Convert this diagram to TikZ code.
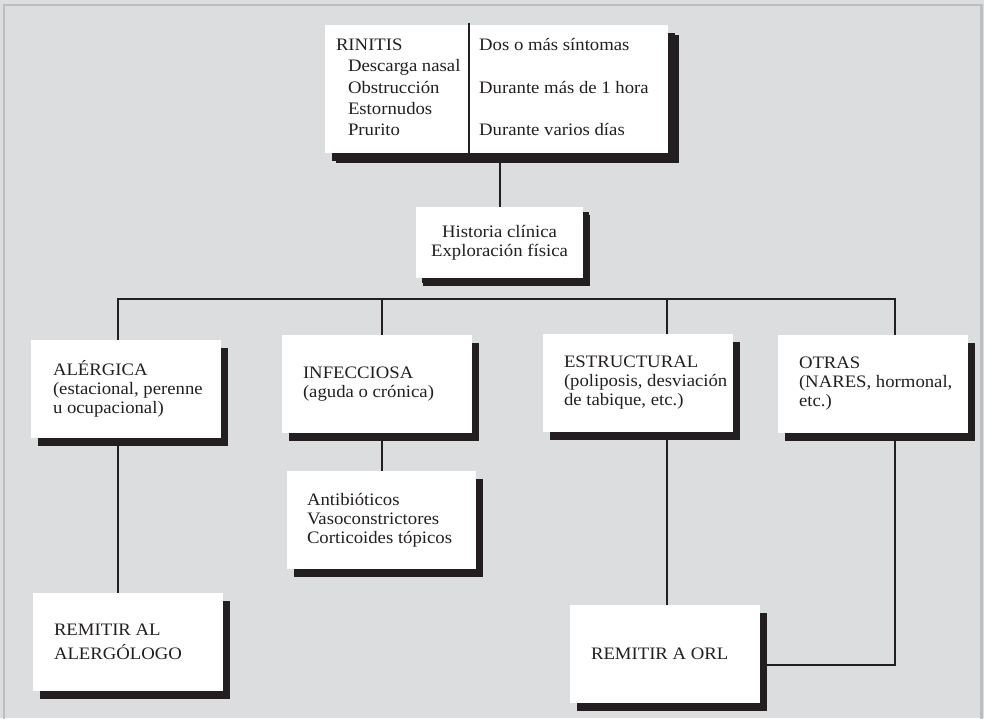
\documentclass[tikz,border=0pt]{standalone}
\usepackage{fontspec}
\setmainfont{Liberation Serif}[FakeStretch=1.07]
\usetikzlibrary{shadows,calc}
\definecolor{bgc}{HTML}{DCDDDF}
\definecolor{brd}{HTML}{BEBEBE}
\definecolor{ink}{HTML}{231F20}
\pgfdeclarelayer{bglayer}
\pgfdeclarelayer{linelayer}
\pgfsetlayers{bglayer,linelayer,main}
\begin{document}
\begin{tikzpicture}[x=1pt,y=-1pt,
  boxn/.style={fill=white, inner sep=0pt, minimum width=190pt, minimum height=98pt,
    drop shadow={shadow xshift=7pt, shadow yshift=-8pt, fill=ink, opacity=1}},
  txt/.style={anchor=west, align=left, inner sep=0pt, text=ink, font=\fontsize{17.5}{19}\selectfont},
  conn/.style={draw=ink, line width=2pt, line join=miter}]
\useasboundingbox (0,0) rectangle (984,718);
\begin{pgfonlayer}{bglayer}
  \fill[bgc] (0,0) rectangle (984,718);
  \draw[brd, line width=2.5pt] (4.2,730) -- (4.2,5) -- (981.5,5) -- (981.5,730);
\end{pgfonlayer}

% boxes
\node[boxn, minimum width=343pt, minimum height=128pt,
  drop shadow={shadow xshift=11pt, shadow yshift=-10pt, fill=ink, opacity=1}] (rinitis) at (496.5,89) {};
\node[boxn, minimum width=167pt, minimum height=71pt,
  drop shadow={shadow xshift=6pt, shadow yshift=-5pt, fill=ink, opacity=1}] (historia) at (499.5,242.5) {};
\node[boxn] (alergica) at (126,389) {};
\node[boxn] (infec) at (377,384) {};
\node[boxn] (estruc) at (638,383) {};
\node[boxn] (otras) at (873,384) {};
\node[boxn, minimum width=189pt] (antib) at (381.5,520) {};
\node[boxn] (remal) at (128,642) {};
\node[boxn] (orl) at (665,654) {};

% texts
\coordinate (divx) at (469,0);
\draw[ink, line width=1.4pt] ([yshift=2pt]rinitis.north -| divx) -- (rinitis.south -| divx);
\node[txt, font=\fontsize{17.5}{21.3}\selectfont] (rinL) at ([xshift=11pt]rinitis.west)
  {\strut RINITIS\\\hspace*{12pt}Descarga nasal\\\hspace*{12pt}Obstrucción\\\hspace*{12pt}Estornudos\\\hspace*{12pt}Prurito\strut};
\node[txt, font=\fontsize{17.5}{21.3}\selectfont] (rinR) at ([xshift=10pt]rinitis.west -| divx)
  {\strut Dos o más síntomas\\\mbox{}\\Durante más de 1 hora\\\mbox{}\\Durante varios días\strut};
\node[txt, anchor=center, align=center] (tHist) at (historia) {Historia clínica\\Exploración física};
\node[txt] (tAl) at ([xshift=22pt]alergica.west) {ALÉRGICA\\(estacional, perenne\\u ocupacional)};
\node[txt] (tInf) at ([xshift=21pt]infec.west) {INFECCIOSA\\(aguda o crónica)};
\node[txt] (tEst) at ([xshift=21pt]estruc.west) {ESTRUCTURAL\\(poliposis, desviación\\de tabique, etc.)};
\node[txt] (tOtr) at ([xshift=21pt]otras.west) {OTRAS\\(NARES, hormonal,\\etc.)};
\node[txt] (tAnt) at ([xshift=20pt]antib.west) {Antibióticos\\Vasoconstrictores\\Corticoides tópicos};
\node[txt, font=\fontsize{17.5}{24}\selectfont] (tRal) at ([xshift=21pt]remal.west) {REMITIR AL\\ALERGÓLOGO};
\node[txt] (tOrl) at ([xshift=21pt]orl.west) {REMITIR A ORL};

% connectors
\coordinate (busL) at (118,299);
\coordinate (bInf) at (382,299);
\coordinate (bEst) at (667,299);
\coordinate (busR) at (895,299);
\coordinate (orlJ) at ([yshift=-11pt]orl.east);
\begin{pgfonlayer}{linelayer}
  \draw[conn] (historia.north) -- (historia.north |- rinitis.south);
  \draw[conn] (busL |- alergica.north) -- (busL) -- (busR) -- (busR |- otras.north);
  \draw[conn] (busL |- alergica.south) -- (busL |- remal.north);
  \draw[conn] (bInf) -- (bInf |- infec.north);
  \draw[conn] (bInf |- infec.south) -- (bInf |- antib.north);
  \draw[conn] (bEst) -- (bEst |- estruc.north);
  \draw[conn] (bEst |- estruc.south) -- (bEst |- orl.north);
  \draw[conn] (busR |- otras.south) -- (busR |- orlJ) -- (orlJ);
\end{pgfonlayer}
\end{tikzpicture}
\end{document}
